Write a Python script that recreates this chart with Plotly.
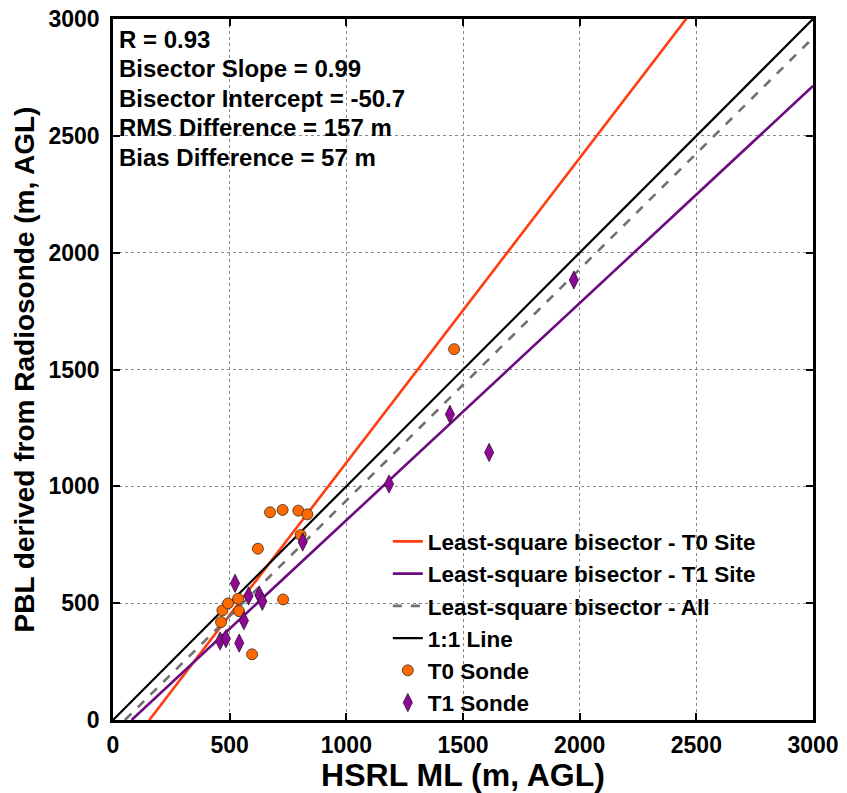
import plotly.graph_objects as go

# PBL heights (m AGL): HSRL mixed layer vs radiosonde, per site
hsrl_t0 = [463, 469, 493, 536, 540, 596, 621, 673, 727, 729, 794, 804, 833, 1462]
sonde_t0 = [419, 469, 499, 519, 466, 281, 733, 889, 899, 516, 896, 792, 880, 1587]

hsrl_t1 = [459, 484, 523, 541, 561, 581, 627, 640, 813, 1183, 1444, 1612, 1975]
sonde_t1 = [338, 348, 585, 329, 425, 531, 535, 508, 762, 1010, 1308, 1145, 1883]

# Fitted lines (slope, intercept)
fit_names = ["Least-square bisector - T0 Site", "Least-square bisector - T1 Site",
             "Least-square bisector - All", "1:1 Line"]
fit_slopes = [1.304, 0.929, 0.99, 1.0]
fit_intercepts = [-203.0, -74.0, -50.7, 0.0]
fit_colors = ["#FF3D0D", "#6B0B7E", "#707070", "#000000"]
fit_dashes = ["solid", "solid", "dash", "solid"]
fit_widths = [2.6, 2.6, 2.6, 2.2]

stats_lines = ["R = 0.93", "Bisector Slope = 0.99", "Bisector Intercept = -50.7",
               "RMS Difference = 157 m", "Bias Difference = 57 m"]

axis_max = 3000
tick_vals = [0, 500, 1000, 1500, 2000, 2500, 3000]

FONT = "Liberation Sans, Arial, Helvetica, sans-serif"

fig = go.Figure()

for i, (name, m, b) in enumerate(zip(fit_names, fit_slopes, fit_intercepts)):
    x0 = max(0.0, -b / m)
    xs = [x0, axis_max]
    ys = [m * x + b for x in xs]
    fig.add_trace(go.Scatter(
        x=xs, y=ys, mode="lines", name=name,
        line=dict(color=fit_colors[i], width=fit_widths[i], dash=fit_dashes[i]),
        legendgroup=f"g{i}", legendrank=i + 1,
    ))

fig.add_trace(go.Scatter(
    x=hsrl_t0, y=sonde_t0, mode="markers", name="T0 Sonde",
    marker=dict(symbol="circle", size=11, color="#FF6A00",
                line=dict(color="#3a2a20", width=0.8)),
    legendgroup="g4", legendrank=5,
))
fig.add_trace(go.Scatter(
    x=hsrl_t1, y=sonde_t1, mode="markers", name="T1 Sonde",
    marker=dict(symbol="diamond-tall", size=13, color="#8E0A96",
                line=dict(color="#2a102a", width=0.8)),
    legendgroup="g5", legendrank=6,
))

# statistics block, one line per annotation
for i, line in enumerate(stats_lines):
    fig.add_annotation(
        xref="paper", yref="paper", x=0, y=1, xshift=4,
        yshift=-(20 + i * 29.6), yanchor="middle",
        xanchor="left", align="left", showarrow=False, text=line,
        font=dict(family=FONT, size=24, color="black", weight="bold"),
    )

# white backing behind the legend (above gridlines, below traces)
fig.add_shape(
    type="rect", xref="paper", yref="paper", x0=0.41, x1=0.995, y0=0.004, y1=0.2825,
    fillcolor="white", line=dict(width=0), layer="between",
)

axis_common = dict(
    range=[0, axis_max], tickvals=tick_vals, ticks="inside", ticklen=7,
    tickwidth=2, tickcolor="black", showline=True, linecolor="black",
    linewidth=2.5, mirror="ticks", showgrid=True, gridcolor="#8a8a8a",
    griddash="dot", gridwidth=1, zeroline=False, automargin=False,
    tickfont=dict(family=FONT, size=23, color="black", weight="bold"),
)

fig.update_xaxes(
    **axis_common,
    ticklabelstandoff=3,
    title=dict(text="HSRL ML (m, AGL)", standoff=9,
               font=dict(family=FONT, size=32, color="black", weight="bold")),
)
fig.update_yaxes(
    **axis_common,
    ticklabelstandoff=6,
    title=dict(text="PBL derived from Radiosonde (m, AGL)", standoff=6,
               font=dict(family=FONT, size=28, color="black", weight="bold")),
)

fig.update_layout(
    width=847, height=793,
    margin=dict(l=113, r=34, t=19, b=73, autoexpand=False),
    paper_bgcolor="white", plot_bgcolor="white",
    showlegend=True,
    legend=dict(
        x=0.3926, y=0.285, xanchor="left", yanchor="top",
        bgcolor="rgba(0,0,0,0)", borderwidth=0, traceorder="grouped",
        tracegroupgap=0, itemwidth=30,
        font=dict(family=FONT, size=22.5, color="black", weight="bold"),
    ),
)

fig.write_html("out.html")
